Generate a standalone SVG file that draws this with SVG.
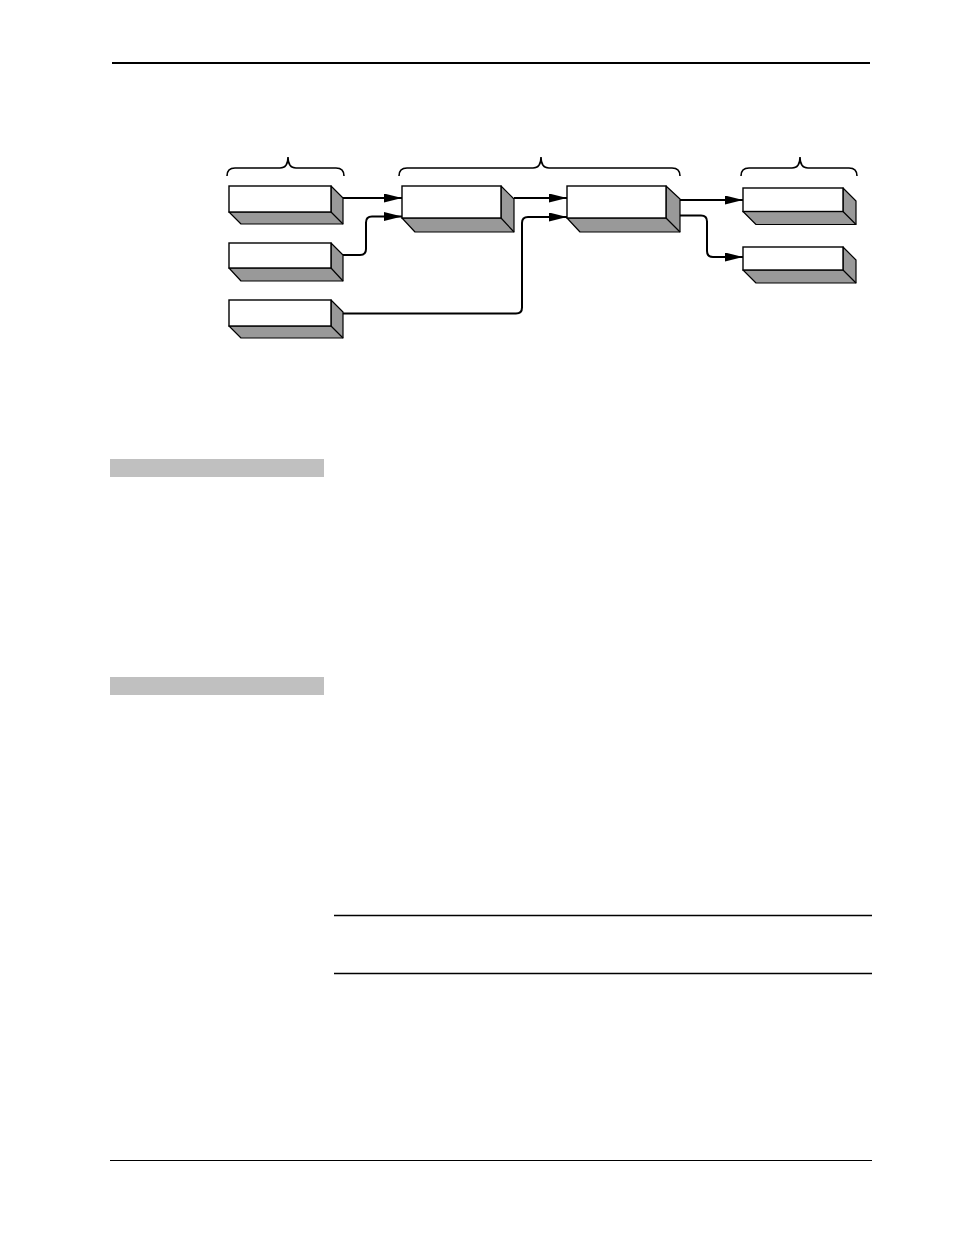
<svg xmlns="http://www.w3.org/2000/svg" width="954" height="1235" viewBox="0 0 954 1235">
<style>
.front{fill:#fff;stroke:#000;stroke-width:1.4}
.side{fill:#999;stroke:#000;stroke-width:1.2;stroke-linejoin:round}
.edge{stroke:#000;stroke-width:1.2}
.conn{fill:none;stroke:#000;stroke-width:2}
.brace{fill:none;stroke:#000;stroke-width:1.6}
.bar{fill:#c0c0c0}
.rule{stroke:#000}
</style>
<defs>
<marker id="ah" markerUnits="userSpaceOnUse" markerWidth="19" markerHeight="10" refX="18" refY="4.5" orient="auto">
<path d="M0,0 L18,4.5 L0,9 z" fill="#000"/>
</marker>
</defs>
<rect width="954" height="1235" fill="#fff"/>
<g id="page">
<line class="rule" x1="112" y1="63" x2="870" y2="63" stroke-width="2"/>
<rect class="bar" x="110" y="459" width="214" height="18"/>
<rect class="bar" x="110" y="677" width="214" height="18"/>
<line class="rule" x1="334" y1="915.5" x2="872" y2="915.5" stroke-width="1.3"/>
<line class="rule" x1="334" y1="973.5" x2="872" y2="973.5" stroke-width="1.3"/>
<line class="rule" x1="110" y1="1160.5" x2="872" y2="1160.5" stroke-width="1.2"/>
</g>
<g id="braces">
<path class="brace" d="M227,176 Q227,168 235,168 L280,168 Q288,168 288,157 Q288,168 296,168 L336,168 Q344,168 344,176"/>
<path class="brace" d="M399,176 Q399,168 407,168 L533,168 Q541,168 541,157 Q541,168 549,168 L672,168 Q680,168 680,176"/>
<path class="brace" d="M741,176 Q741,168 749,168 L792,168 Q800,168 800,157 Q800,168 808,168 L849,168 Q857,168 857,176"/>
</g>
<g id="in1">
<path class="side" d="M229,212 L331,212 L331,186 L343,198 L343,224 L241,224 Z"/>
<line class="edge" x1="331" y1="212" x2="343" y2="224"/>
<rect class="front" x="229" y="186" width="102" height="26"/>
</g>
<g id="in2">
<path class="side" d="M229,268 L331,268 L331,243 L343,255 L343,281 L241,281 Z"/>
<line class="edge" x1="331" y1="268" x2="343" y2="281"/>
<rect class="front" x="229" y="243" width="102" height="25"/>
</g>
<g id="in3">
<path class="side" d="M229,326 L331,326 L331,300 L343,312 L343,338 L241,338 Z"/>
<line class="edge" x1="331" y1="326" x2="343" y2="338"/>
<rect class="front" x="229" y="300" width="102" height="26"/>
</g>
<g id="procA">
<path class="side" d="M402,218 L501,218 L501,186 L514,199 L514,232 L415,232 Z"/>
<line class="edge" x1="501" y1="218" x2="514" y2="232"/>
<rect class="front" x="402" y="186" width="99" height="32"/>
</g>
<g id="procB">
<path class="side" d="M567,218 L666,218 L666,186 L680,199 L680,232 L580,232 Z"/>
<line class="edge" x1="666" y1="218" x2="680" y2="232"/>
<rect class="front" x="567" y="186" width="99" height="32"/>
</g>
<g id="out1">
<path class="side" d="M743,211.5 L843,211.5 L843,188 L856,201 L856,224.5 L756,224.5 Z"/>
<line class="edge" x1="843" y1="211.5" x2="856" y2="224.5"/>
<rect class="front" x="743" y="188" width="100" height="23.5"/>
</g>
<g id="out2">
<path class="side" d="M743,270 L843,270 L843,247 L856,260 L856,283 L756,283 Z"/>
<line class="edge" x1="843" y1="270" x2="856" y2="283"/>
<rect class="front" x="743" y="247" width="100" height="23"/>
</g>
<g id="connectors">
<path class="conn" d="M343,198 L402,198" marker-end="url(#ah)"/>
<path class="conn" d="M343,255 L360,255 Q366,255 366,249 L366,222.5 Q366,216.5 372,216.5 L402,216.5" marker-end="url(#ah)"/>
<path class="conn" d="M343,313.5 L516,313.5 Q522,313.5 522,307.5 L522,223 Q522,217 528,217 L567,217" marker-end="url(#ah)"/>
<path class="conn" d="M514,198 L567,198" marker-end="url(#ah)"/>
<path class="conn" d="M680,200 L743,200" marker-end="url(#ah)"/>
<path class="conn" d="M680,215.5 L701,215.5 Q707,215.5 707,221.5 L707,251 Q707,257 713,257 L743,257" marker-end="url(#ah)"/>
</g>
</svg>
